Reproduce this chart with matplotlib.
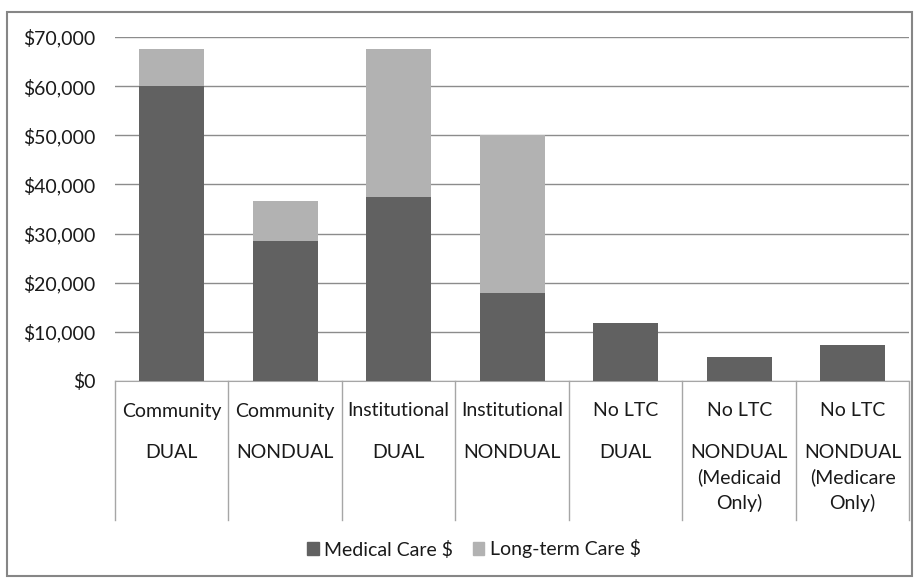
import matplotlib
matplotlib.use("Agg")
from matplotlib import pyplot as plt
from matplotlib.patches import Patch, Rectangle
from matplotlib.ticker import FuncFormatter
import numpy as np

# categories (two rows of x labels) and stacked values
groups = ["Community", "Community", "Institutional", "Institutional", "No LTC", "No LTC", "No LTC"]
status = ["DUAL", "NONDUAL", "DUAL", "NONDUAL", "DUAL", "NONDUAL\n(Medicaid\nOnly)", "NONDUAL\n(Medicare\nOnly)"]
medical = [60100, 28400, 37400, 18000, 11900, 4800, 7400]
longterm = [7400, 8200, 30100, 32000, 0, 0, 0]

plt.rcParams["font.family"] = ["Lato", "DejaVu Sans"]
txt = "#1a1a1a"

fig = plt.figure(figsize=(9.2, 5.8), dpi=100)
ax = fig.add_axes([115/920, 199/580, 794.5/920, 344/580])

x = np.arange(len(groups))
ax.bar(x, medical, width=0.57, color="#616161", zorder=3, label="Medical Care $")
ax.bar(x, longterm, width=0.57, bottom=medical, color="#b2b2b2", zorder=3, label="Long-term Care $")

ax.set_xlim(-0.5, len(groups) - 0.5)
ax.set_ylim(0, 70000)
ax.set_yticks(np.arange(0, 70001, 10000))
ax.yaxis.set_major_formatter(FuncFormatter(lambda v, p: "${:,.0f}".format(v)))
ax.tick_params(axis="y", length=0, pad=14, labelsize=14, labelcolor=txt)
ax.set_xticks([])
ax.grid(axis="y", color="#8c8c8c", linewidth=1, zorder=0)
for s in ["left", "right", "top"]:
    ax.spines[s].set_visible(False)
ax.spines["bottom"].set_color("#a6a6a6")

# two-level category labels with separators
trans = ax.get_xaxis_transform()
for i in range(len(groups) + 1):
    ax.plot([i - 0.5, i - 0.5], [0, -139/344], transform=trans, color="#a6a6a6",
            linewidth=1, clip_on=False)
for i in range(len(groups)):
    ax.text(i, -30/344, groups[i], transform=trans, ha="center", va="center",
            fontsize=14, color=txt)
    ax.text(i, -63/344, status[i], transform=trans, ha="center", va="top",
            fontsize=14, color=txt, linespacing=1.5)

handles = [Patch(color="#616161", label="Medical Care $"),
           Patch(color="#b2b2b2", label="Long-term Care $")]
leg = fig.legend(handles=handles, loc="center", bbox_to_anchor=(474/920, 1 - 549/580),
                 ncol=2, frameon=False, fontsize=14, handlelength=0.6, handleheight=0.6,
                 handletextpad=0.3, columnspacing=1.0)
for t in leg.get_texts():
    t.set_color(txt)

fig.add_artist(Rectangle((7/920, 4/580), 905/920, 564/580, transform=fig.transFigure,
                         fill=False, edgecolor="#868686", linewidth=1.5))

plt.savefig("out.png", dpi=100)
